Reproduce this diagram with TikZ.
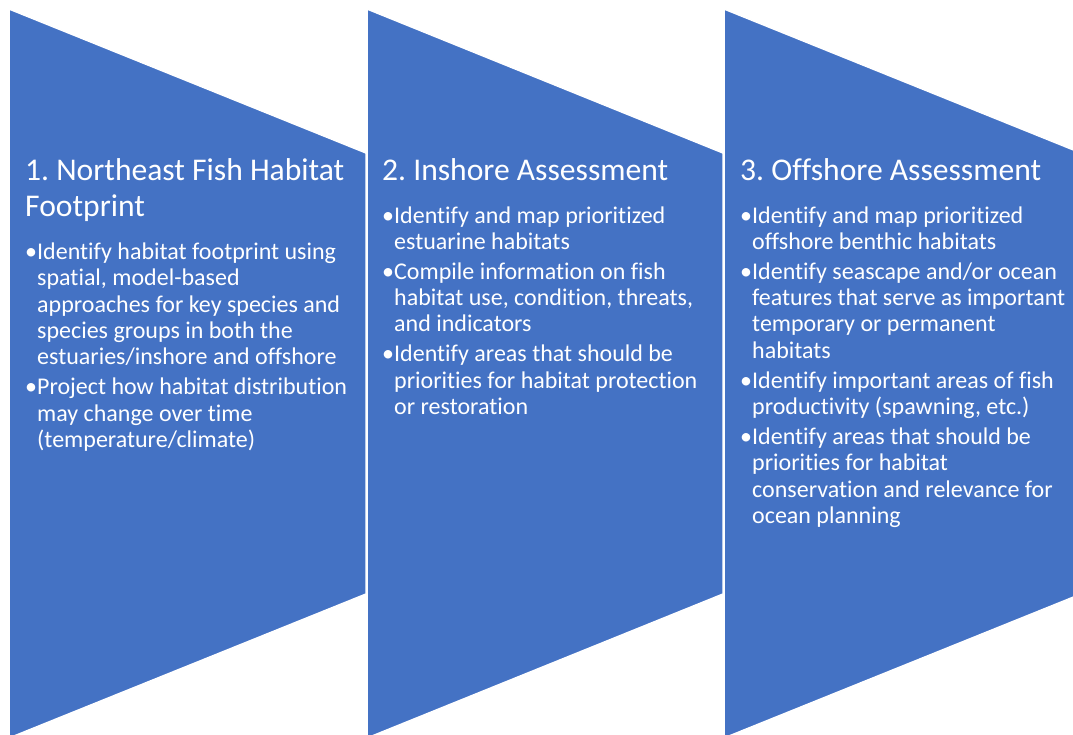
\documentclass[tikz,border=0pt]{standalone}
\usepackage{fontspec}
\setmainfont{Carlito}[Ligatures=NoCommon]
\frenchspacing
\definecolor{chevblue}{HTML}{4472C4}
% one bullet item with hanging indent
\newcommand{\bul}[1]{\par\hangindent=12pt\hangafter=1\noindent\makebox[12pt][l]{\textbullet}#1\par}

\begin{document}
\begin{tikzpicture}[
    x=1pt, y=-1pt,
    chev/.style={fill=chevblue, draw=white, line width=1.5pt},
    head/.style={anchor=base west, inner sep=0pt, text=white, font=\fontsize{31.6}{36}\selectfont},
    body/.style={anchor=base west, inner sep=0pt, text=white, font=\fontsize{24}{26.3}\selectfont}
]
    \useasboundingbox (0,0) rectangle (1073,734);
    \clip (0,0) rectangle (1073,734);

    % Step 1 - Footprint
    \draw[chev] (9,9) -- (366,153) -- (366,594) -- (9,738) -- cycle;
    \node[head] (foottitle) at (25,180) {\parbox[t]{345pt}{1. Northeast Fish Habitat\newline Footprint}};
    \node[body] (footbody) at (25,259.5) {\parbox[t]{345pt}{\setlength{\parskip}{3.7pt}%
        \bul{Identify habitat footprint using\newline spatial, model-based\newline approaches for key species and\newline species groups in both the\newline estuaries/inshore and offshore}%
        \bul{Project how habitat distribution\newline may change over time\newline (temperature/climate)}}};

    % Step 2 - Inshore
    \draw[chev] (367,9) -- (723,153) -- (723,594) -- (367,738) -- cycle;
    \node[head] (inshtitle) at (382,180) {2. Inshore Assessment};
    \node[body] (inshbody) at (382,223) {\parbox[t]{345pt}{\setlength{\parskip}{3.7pt}%
        \bul{Identify and map prioritized\newline estuarine habitats}%
        \bul{Compile information on fish\newline habitat use, condition, threats,\newline and indicators}%
        \bul{Identify areas that should be\newline priorities for habitat protection\newline or restoration}}};

    % Step 3 - Offshore
    \draw[chev] (724,9) -- (1081,153) -- (1081,594) -- (724,738) -- cycle;
    \node[head] (offstitle) at (740,180) {3. Offshore Assessment};
    \node[body] (offsbody) at (740,223) {\parbox[t]{345pt}{\setlength{\parskip}{3.7pt}%
        \bul{Identify and map prioritized\newline offshore benthic habitats}%
        \bul{Identify seascape and/or ocean\newline features that serve as important\newline temporary or permanent\newline habitats}%
        \bul{Identify important areas of fish\newline productivity (spawning, etc.)}%
        \bul{Identify areas that should be\newline priorities for habitat\newline conservation and relevance for\newline ocean planning}}};
\end{tikzpicture}
\end{document}
